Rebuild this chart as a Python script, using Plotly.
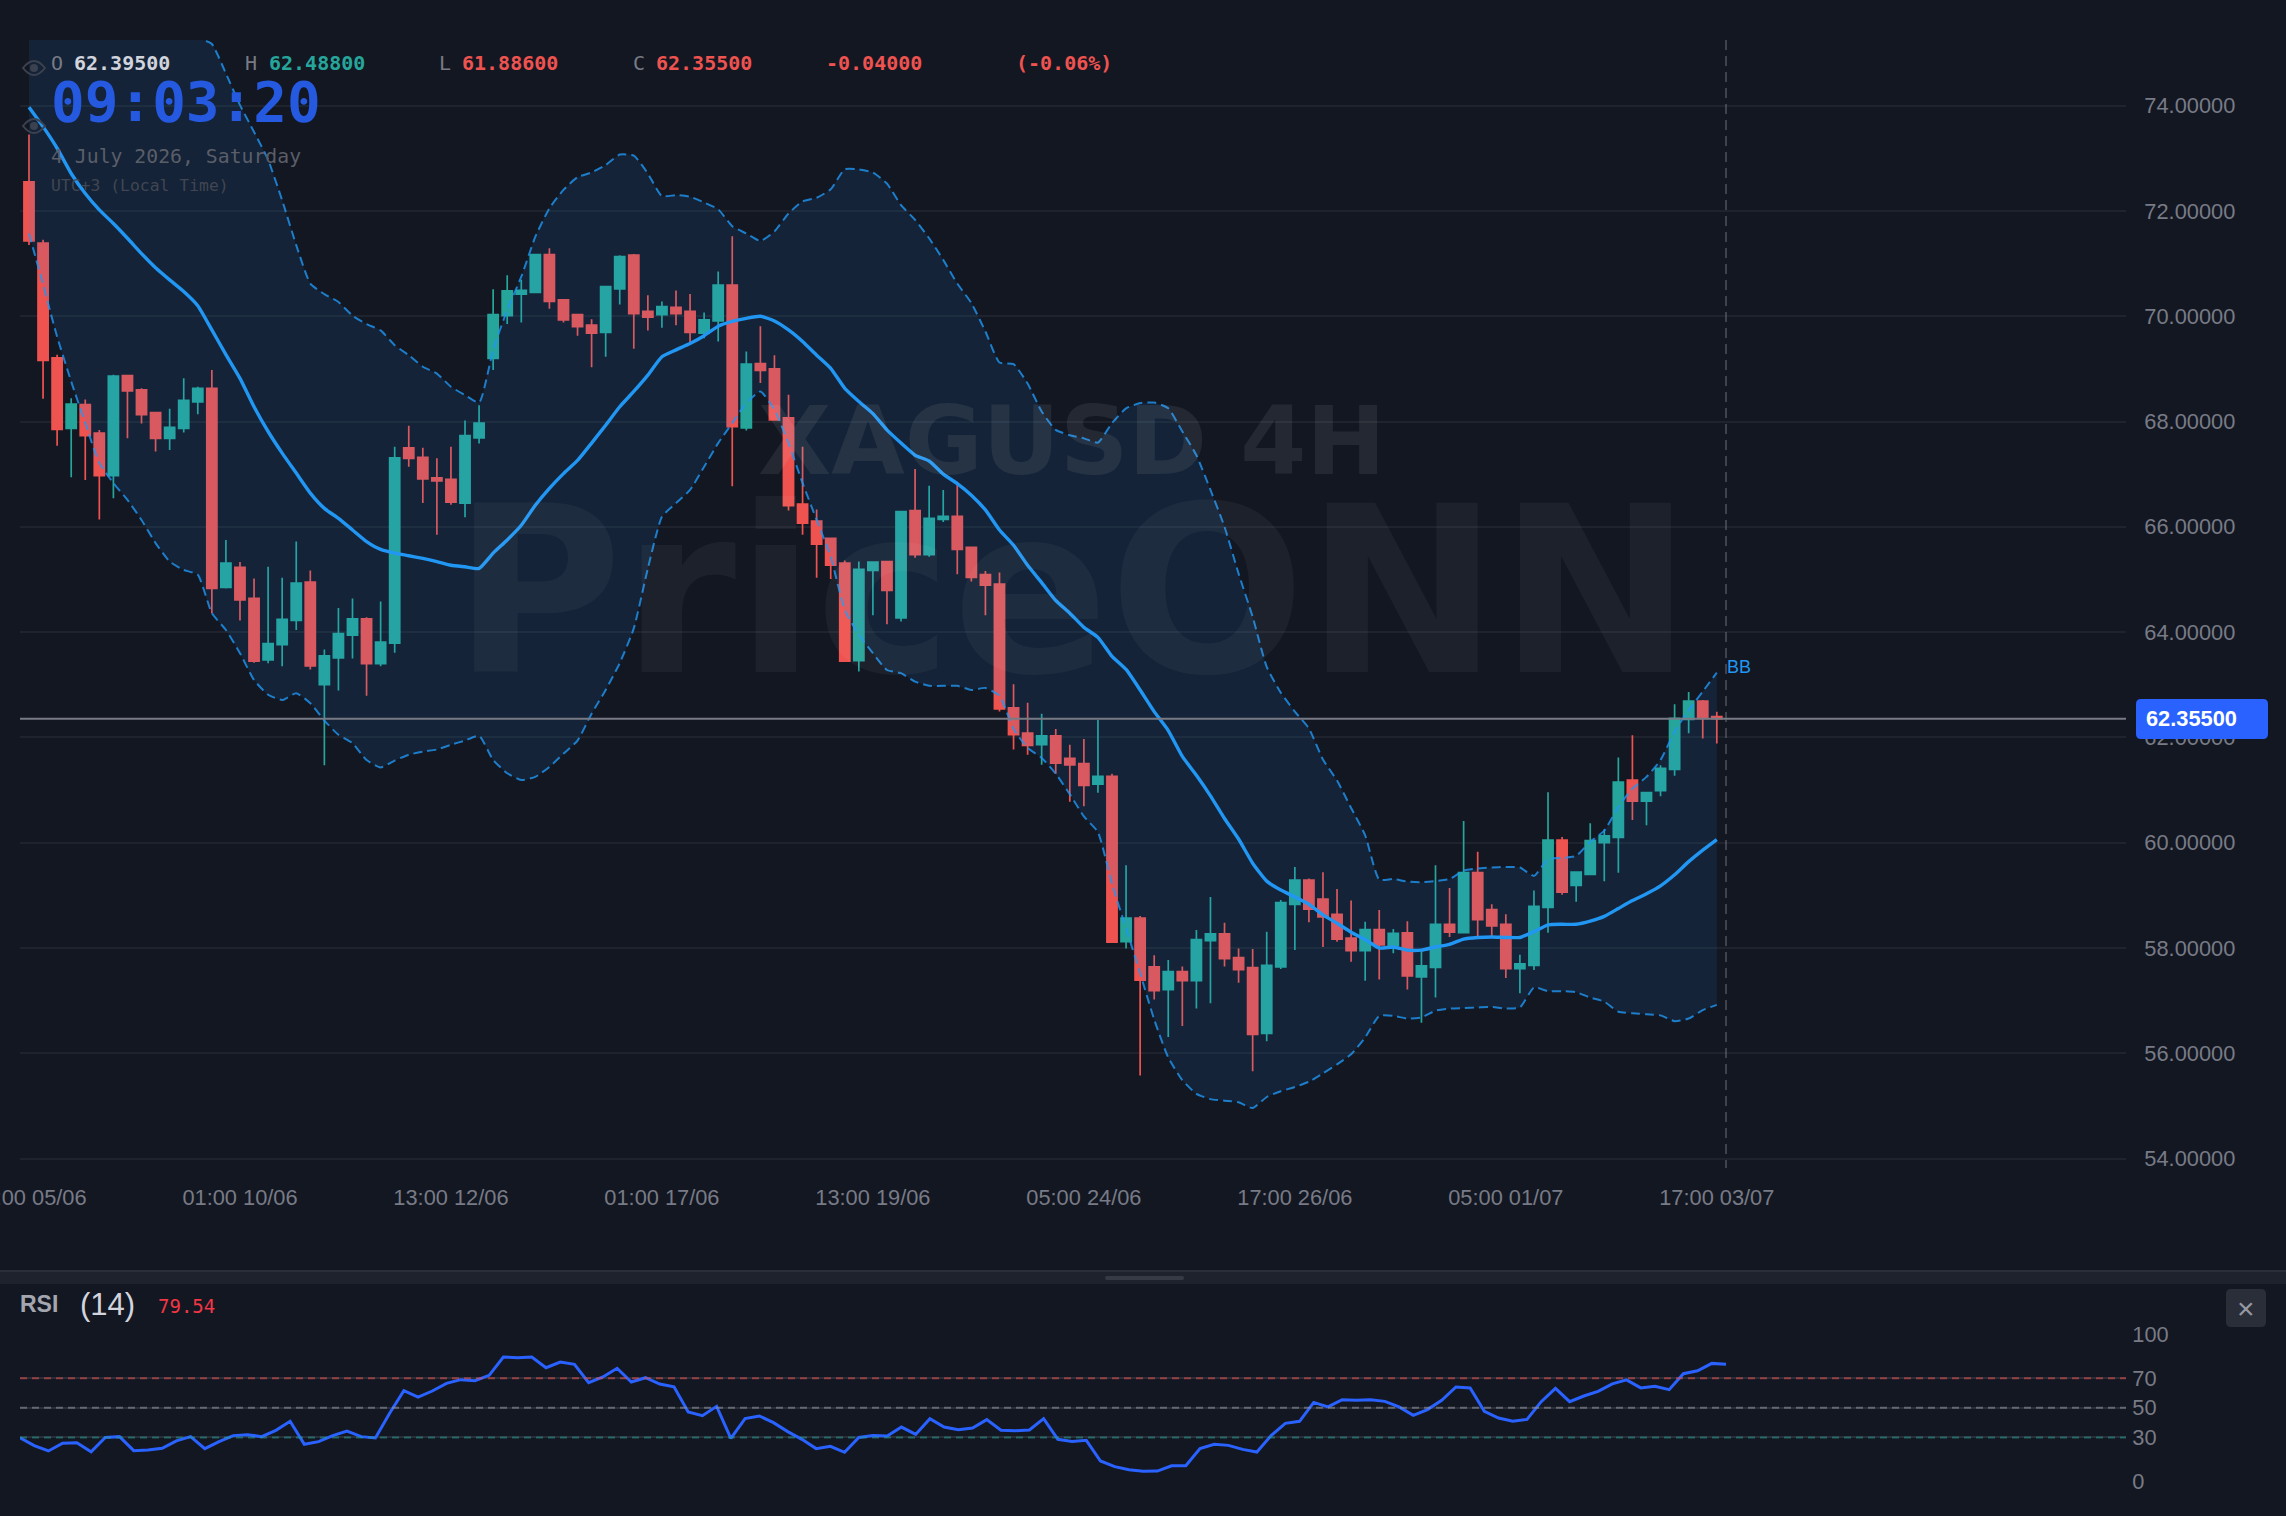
import plotly.graph_objects as go

# XAGUSD 4H candles, oldest first
open_ = [72.55,71.39,69.21,67.87,68.32,67.78,66.97,68.87,68.60,68.17,67.68,67.87,68.37,68.63,64.85,65.23,64.64,63.47,63.76,64.22,
         64.95,63.00,63.51,63.94,64.25,63.40,63.79,67.50,67.32,66.93,66.90,66.45,67.69,69.20,70.01,70.42,70.45,71.17,70.31,70.03,
         69.83,69.69,70.52,71.16,70.09,70.03,70.17,70.09,69.68,69.91,70.59,67.88,69.10,69.00,68.07,66.43,66.11,65.78,65.31,63.46,
         65.17,65.34,64.27,66.31,65.47,66.14,66.20,65.61,65.09,64.91,62.56,62.08,61.86,62.03,61.60,61.50,61.11,61.26,58.12,58.57,
         57.64,57.21,57.55,57.38,58.14,58.27,57.82,57.63,56.38,57.64,58.83,59.29,58.93,58.64,58.19,57.95,58.35,58.05,58.29,57.45,
         57.63,58.45,58.29,59.43,58.73,58.45,57.61,57.67,58.77,60.05,59.19,59.40,60.00,60.10,61.19,60.79,60.99,61.39,62.34,62.69,62.395]
high = [73.45,71.45,69.27,68.44,68.42,67.84,68.89,68.89,68.63,68.17,68.24,68.82,68.66,68.98,65.75,65.33,65.02,65.24,65.03,65.72,
        65.17,63.67,64.46,64.64,64.28,64.58,67.52,67.92,67.50,67.30,67.52,68.02,68.31,70.51,70.78,70.69,71.18,71.29,70.31,70.03,
        69.94,70.56,71.16,71.18,70.40,70.28,70.49,70.42,70.07,70.85,71.52,69.33,69.81,69.26,68.51,67.52,66.33,65.78,65.36,65.34,
        65.34,65.34,66.29,67.10,66.78,66.70,66.85,65.61,65.16,65.13,63.01,62.66,62.45,62.16,61.86,61.97,62.33,61.31,59.57,58.61,
        57.86,57.77,57.65,58.34,58.97,58.48,57.99,57.98,58.31,58.91,59.54,59.32,59.44,59.12,58.90,58.50,58.72,58.36,58.51,57.95,
        59.57,59.14,60.41,59.83,58.83,58.64,57.87,59.09,60.96,60.11,59.46,60.37,60.25,61.62,62.04,60.95,61.47,62.63,62.86,62.71,62.488]
low = [71.35,68.43,67.54,66.94,66.89,66.14,66.54,67.68,67.96,67.43,67.46,67.79,68.14,64.36,64.83,64.22,63.42,63.41,63.35,64.04,
       63.29,61.47,62.89,63.50,62.79,63.35,63.61,67.14,66.45,65.85,66.42,66.18,67.58,68.98,69.85,69.88,70.44,70.14,69.88,69.63,
       69.03,69.23,70.22,69.38,69.73,69.78,69.83,69.50,69.58,69.52,66.77,67.83,68.73,68.03,66.31,65.85,65.03,65.01,63.44,63.25,
       64.32,64.15,64.20,65.41,65.43,66.09,65.10,64.96,64.32,62.49,61.77,61.67,61.48,61.31,60.78,60.69,60.95,58.10,57.99,55.58,
       57.02,56.31,56.52,56.85,56.95,57.65,57.34,55.66,56.23,57.60,57.96,58.49,58.02,58.12,57.74,57.38,57.40,57.90,57.21,56.58,
       57.06,58.21,58.29,58.22,58.22,57.43,57.14,57.58,58.29,59.01,58.88,59.39,59.27,59.43,60.43,60.33,60.88,61.27,62.08,61.98,61.886]
close = [71.43,69.16,67.85,68.33,67.73,66.97,68.86,68.58,68.13,67.68,67.89,68.40,68.63,64.83,65.31,64.61,63.45,63.78,64.24,64.93,
         63.36,63.55,63.97,64.25,63.40,63.81,67.31,67.30,66.91,66.87,66.47,67.73,67.97,70.03,70.48,70.49,71.17,70.28,69.93,69.80,
         69.68,70.56,71.13,70.05,69.98,70.18,70.05,69.69,69.93,70.59,67.90,69.09,68.97,68.03,66.40,66.07,65.67,65.27,63.45,65.19,
         65.33,64.79,66.29,65.47,66.16,66.20,65.57,65.04,64.89,62.54,62.05,61.85,62.03,61.51,61.48,61.09,61.26,58.11,58.57,57.39,
         57.19,57.55,57.38,58.16,58.27,57.80,57.59,56.36,57.67,58.86,59.29,58.74,58.59,58.17,57.95,58.35,58.06,58.28,57.47,57.66,
         58.45,58.30,59.43,58.54,58.42,57.61,57.70,58.79,60.05,59.06,59.44,60.04,60.13,61.15,60.79,60.95,61.41,62.36,62.69,62.36,62.355]

# Bollinger Bands (upper, basis, lower)
bb_upper = [79.1,79.0,78.9,78.7,78.5,78.3,78.0,77.7,77.4,77.0,76.6,75.9,75.3,75.17,74.61,74.01,73.50,72.97,72.20,71.35,
            70.62,70.42,70.27,70.01,69.85,69.73,69.45,69.26,69.04,68.91,68.66,68.50,68.36,69.36,70.12,70.75,71.51,72.05,72.40,72.64,
            72.73,72.87,73.07,73.05,72.71,72.28,72.30,72.27,72.16,72.03,71.71,71.57,71.43,71.61,71.95,72.18,72.25,72.41,72.79,72.79,
            72.73,72.52,72.11,71.83,71.48,71.07,70.62,70.25,69.71,69.12,69.09,68.72,68.19,67.84,67.74,67.68,67.60,67.97,68.25,68.35,
            68.36,68.25,67.81,67.36,66.70,66.00,65.11,64.29,63.34,62.85,62.49,62.17,61.58,61.18,60.66,60.14,59.30,59.31,59.26,59.25,
            59.27,59.31,59.47,59.51,59.53,59.54,59.53,59.37,59.69,59.71,59.75,60.02,60.23,60.68,61.03,61.25,61.57,62.11,62.52,62.87,63.23]
bb_basis = [73.97,73.60,73.19,72.71,72.33,72.02,71.76,71.48,71.19,70.92,70.69,70.47,70.20,69.74,69.27,68.82,68.28,67.81,67.40,67.02,
            66.64,66.35,66.16,65.94,65.72,65.57,65.50,65.45,65.40,65.34,65.27,65.24,65.21,65.50,65.75,66.03,66.41,66.73,67.01,67.26,
            67.59,67.93,68.28,68.57,68.88,69.23,69.36,69.48,69.63,69.81,69.90,69.96,70.00,69.91,69.74,69.52,69.26,69.01,68.63,68.38,
            68.15,67.84,67.59,67.36,67.25,67.00,66.82,66.60,66.32,65.94,65.65,65.27,64.94,64.60,64.36,64.09,63.90,63.54,63.29,62.90,
            62.49,62.13,61.64,61.28,60.89,60.46,60.07,59.61,59.27,59.10,58.97,58.83,58.63,58.47,58.30,58.16,58.00,58.02,57.96,57.96,
            58.02,58.07,58.17,58.20,58.21,58.20,58.20,58.31,58.44,58.45,58.45,58.51,58.60,58.75,58.90,59.03,59.18,59.39,59.64,59.86,60.06]
bb_lower = [71.57,70.60,69.61,68.76,67.97,67.21,66.83,66.51,66.13,65.69,65.34,65.18,65.09,64.36,64.04,63.60,63.09,62.81,62.71,62.84,
            62.65,62.32,62.05,61.89,61.57,61.43,61.56,61.67,61.73,61.77,61.86,61.94,62.03,61.57,61.32,61.19,61.25,61.44,61.69,61.94,
            62.45,62.90,63.41,64.07,65.21,66.19,66.45,66.70,67.14,67.59,67.97,68.35,68.57,68.22,67.59,66.83,66.13,65.43,64.42,63.95,
            63.60,63.28,63.22,63.06,62.98,62.98,62.98,62.90,62.94,62.79,62.16,61.80,61.61,61.31,60.92,60.50,60.20,59.22,58.37,57.52,
            56.64,55.92,55.49,55.23,55.13,55.10,55.07,54.96,55.17,55.28,55.36,55.46,55.62,55.79,55.98,56.30,56.71,56.71,56.66,56.68,
            56.81,56.85,56.86,56.87,56.88,56.85,56.87,57.25,57.18,57.18,57.16,57.06,56.98,56.79,56.76,56.74,56.72,56.61,56.66,56.82,56.92]

# RSI(14)
rsi = [29.8,24.4,20.8,26.0,26.4,20.3,30.0,30.5,21.0,21.5,22.6,27.6,30.5,22.4,27.1,31.2,31.8,30.5,34.8,40.9,
       25.3,27.1,31.2,34.3,30.5,29.6,46.3,61.6,57.3,61.4,66.6,69.1,68.4,72.0,84.4,84.0,84.4,77.2,81.0,79.5,
       67.0,70.9,76.8,67.5,70.4,66.1,64.3,47.2,44.7,51.0,29.4,42.7,44.5,40.0,33.9,28.7,22.4,24.0,19.9,30.0,
       31.2,30.9,37.0,32.0,42.7,37.0,35.2,36.4,42.0,34.8,34.5,35.0,42.7,28.7,27.3,28.0,14.0,10.2,8.1,7.0,
       7.2,10.8,10.8,22.4,25.3,24.6,21.9,20.1,31.2,39.5,40.9,53.7,50.6,55.5,55.1,55.5,54.4,50.6,44.9,48.8,
       55.1,64.1,63.4,47.6,43.1,40.9,42.2,54.2,63.2,54.2,58.0,61.2,66.2,68.9,63.5,64.6,62.3,73.1,75.1,80.1,79.54]

time_ticks = [0, 15, 30, 45, 60, 75, 90, 105, 120]
time_labels = ["13:00 05/06", "01:00 10/06", "13:00 12/06", "01:00 17/06", "13:00 19/06",
               "05:00 24/06", "17:00 26/06", "05:00 01/07", "17:00 03/07"]
price_ticks = [54, 56, 58, 60, 62, 64, 66, 68, 70, 72, 74]
rsi_ticks = [0, 30, 50, 70, 100]
last_price = 62.355

W, H = 2286, 1516
BG = "#131722"
UP, DOWN = "#26a69a", "#ef5350"
AXIS_TEXT = "#787b86"
SANS = "Liberation Sans, Arial, sans-serif"
MONO = "DejaVu Sans Mono, monospace"
idx = list(range(len(close)))


def px(x):
    return x / W


def py(y):
    return 1 - y / H


def label(x, y, text, size, color, family=MONO, bold=False, anchor="left"):
    return dict(xref="paper", yref="paper", x=px(x), y=py(y), text=f"<b>{text}</b>" if bold else text,
                showarrow=False, xanchor=anchor, yanchor="middle", borderpad=0,
                font=dict(size=size, color=color, family=family))


def box(x0, y0, x1, y1, fill, r=0):
    # rounded rectangle in page pixels
    X0, X1, Y0, Y1 = px(x0), px(x1), py(y0), py(y1)
    rx, ry = r / W, r / H
    path = (f"M{X0+rx},{Y0} L{X1-rx},{Y0} Q{X1},{Y0} {X1},{Y0-ry} L{X1},{Y1+ry} Q{X1},{Y1} {X1-rx},{Y1} "
            f"L{X0+rx},{Y1} Q{X0},{Y1} {X0},{Y1+ry} L{X0},{Y0-ry} Q{X0},{Y0} {X0+rx},{Y0} Z")
    return dict(type="path", xref="paper", yref="paper", path=path, fillcolor=fill, line=dict(width=0))


def eye(cx, cy):
    # legend visibility toggle
    w, h = 11, 7
    X0, X1, XC, YC = px(cx - w), px(cx + w), px(cx), py(cy)
    top, bot = py(cy - 2 * h), py(cy + 2 * h)
    lens = dict(type="path", xref="paper", yref="paper", path=f"M{X0},{YC} Q{XC},{top} {X1},{YC} Q{XC},{bot} {X0},{YC} Z",
                line=dict(color="#3b414e", width=2), fillcolor="rgba(0,0,0,0)")
    pupil = dict(type="circle", xref="paper", yref="paper", x0=px(cx - 4), x1=px(cx + 4), y0=py(cy + 4), y1=py(cy - 4),
                 fillcolor="#3b414e", line=dict(width=0))
    return [lens, pupil]


fig = go.Figure()
fig.add_trace(go.Candlestick(
    x=idx, open=open_, high=high, low=low, close=close, xaxis="x", yaxis="y", showlegend=False,
    whiskerwidth=0,
    increasing=dict(line=dict(color=UP, width=1.7), fillcolor=UP),
    decreasing=dict(line=dict(color=DOWN, width=1.7), fillcolor=DOWN)))
band_line = dict(color="rgba(33,150,243,0.8)", width=2, dash="9px,5px", shape="spline", smoothing=0.5)
fig.add_trace(go.Scatter(x=idx, y=bb_upper, mode="lines", line=band_line, showlegend=False, xaxis="x", yaxis="y"))
fig.add_trace(go.Scatter(x=idx, y=bb_lower, mode="lines", line=band_line, fill="tonexty",
                         fillcolor="rgba(33,150,243,0.1)", showlegend=False, xaxis="x", yaxis="y"))
fig.add_trace(go.Scatter(x=idx, y=bb_basis, mode="lines", showlegend=False, xaxis="x", yaxis="y",
                         line=dict(color="#2196f3", width=3.4, shape="spline", smoothing=0.5)))
fig.add_trace(go.Scatter(x=idx, y=rsi, mode="lines", showlegend=False, xaxis="x2", yaxis="y2",
                         line=dict(color="#2962ff", width=3)))

shapes = []
# RSI reference levels
for level, col in [(70, "rgba(239,83,80,0.55)"), (50, "rgba(150,152,160,0.55)"), (30, "rgba(38,166,154,0.5)")]:
    shapes.append(dict(type="line", xref="x2 domain", yref="y2", x0=0, x1=1, y0=level, y1=level, layer="above",
                       line=dict(color=col, width=2, dash="7px,5px")))
# last price line and crosshair
shapes.append(dict(type="line", xref="x domain", yref="y", x0=0, x1=1, y0=last_price, y1=last_price,
                   line=dict(color="#787b86", width=2)))
shapes.append(dict(type="line", xref="paper", yref="paper", x0=px(1726), x1=px(1726), y0=py(40), y1=py(1168),
                   line=dict(color="rgba(120,123,134,0.45)", width=2, dash="10px,6px")))
# pane divider
shapes.append(box(0, 1272, W, 1284, "#1e222d"))
shapes.append(box(0, 1270, W, 1272, "#2a2e39"))
shapes.append(box(1105, 1276, 1184, 1280, "#363a45", 2))
# price tag and close button
shapes.append(box(2136, 699, 2268, 739, "#2962ff", 5))
shapes.append(box(2226, 1289, 2266, 1327, "#2a2e39", 5))
shapes += eye(34, 68) + eye(34, 126)

annotations = [
    label(1072, 441, "XAGUSD 4H", 95, "rgba(255,255,255,0.075)", family="DejaVu Sans", bold=True, anchor="center"),
    label(1072, 592, "PriceONN", 231, "rgba(255,255,255,0.045)", family="DejaVu Sans", bold=True, anchor="center"),
    label(50, 63, "O", 20, "#787b86"), label(73, 63, "62.39500", 20, "#d1d4dc", bold=True),
    label(244, 63, "H", 20, "#787b86"), label(268, 63, "62.48800", 20, UP, bold=True),
    label(438, 63, "L", 20, "#787b86"), label(461, 63, "61.88600", 20, DOWN, bold=True),
    label(632, 63, "C", 20, "#787b86"), label(655, 63, "62.35500", 20, DOWN, bold=True),
    label(825, 63, "-0.04000", 20, DOWN, bold=True), label(1015, 63, "(-0.06%)", 20, DOWN, bold=True),
    label(50, 101, "09:03:20", 56, "#2459e0", bold=True),
    label(50, 157, "4 July 2026, Saturday", 19.8, "#5a5e69"),
    label(50, 185, "UTC+3 (Local Time)", 16.4, "#414652"),
    label(1726, 667, "BB", 18, "#2196f3", family=SANS),
    label(2145, 719, "62.35500", 21.8, "#ffffff", family=SANS, bold=True),
    label(2246, 1308, "×", 30, "#9598a1", family=SANS, anchor="center"),
    label(19, 1304, "RSI", 23, "#a3a6af", family=SANS, bold=True),
    label(79, 1304, "(14)", 31, "#d1d4dc", family=SANS),
    label(157, 1306, "79.54", 19, "#f23645"),
]

grid = dict(showgrid=True, gridcolor="#1f232d", gridwidth=1.5, zeroline=False, showline=False)
axis_font = dict(size=21.8, color=AXIS_TEXT, family=SANS)
SPACING, RSI_SPACING = 14.065, 14.217

fig.update_layout(
    width=W, height=H, margin=dict(l=0, r=0, t=0, b=0, autoexpand=False), autosize=False,
    paper_bgcolor=BG, plot_bgcolor=BG, showlegend=False, hovermode=False, boxgap=0.28, boxgroupgap=0,
    shapes=shapes, annotations=annotations,
    xaxis=dict(domain=[px(20), px(2126)], anchor="y", range=[(20 - 29) / SPACING, (2126 - 29) / SPACING],
               rangeslider=dict(visible=False), showgrid=False, zeroline=False, showline=False,
               tickmode="array", tickvals=time_ticks, ticktext=time_labels, tickfont=axis_font,
               ticks="outside", ticklen=10, tickcolor="rgba(0,0,0,0)", ticklabeloverflow="allow"),
    yaxis=dict(domain=[py(1168), py(40)], anchor="x", side="right",
               range=[54 + (1158.6 - 1168) / 52.65, 54 + (1158.6 - 40) / 52.65],
               tickmode="array", tickvals=price_ticks, tickformat=".5f", tickfont=axis_font,
               ticks="outside", ticklen=13, tickcolor="rgba(0,0,0,0)", ticklabeloverflow="allow", **grid),
    xaxis2=dict(domain=[px(20), px(2126)], anchor="y2", range=[0, (2126 - 20) / RSI_SPACING],
                showgrid=False, zeroline=False, showline=False, showticklabels=False, ticks=""),
    yaxis2=dict(domain=[py(1481.7), py(1334)], anchor="x2", side="right", range=[0, 100],
                tickmode="array", tickvals=rsi_ticks, tickfont=axis_font,
                ticks="outside", ticklen=1, tickcolor="rgba(0,0,0,0)", ticklabeloverflow="allow",
                showgrid=True, gridcolor="#2a2e39", gridwidth=1.5, zeroline=False, showline=False),
)

fig.write_html("out.html", config=dict(displayModeBar=False))
